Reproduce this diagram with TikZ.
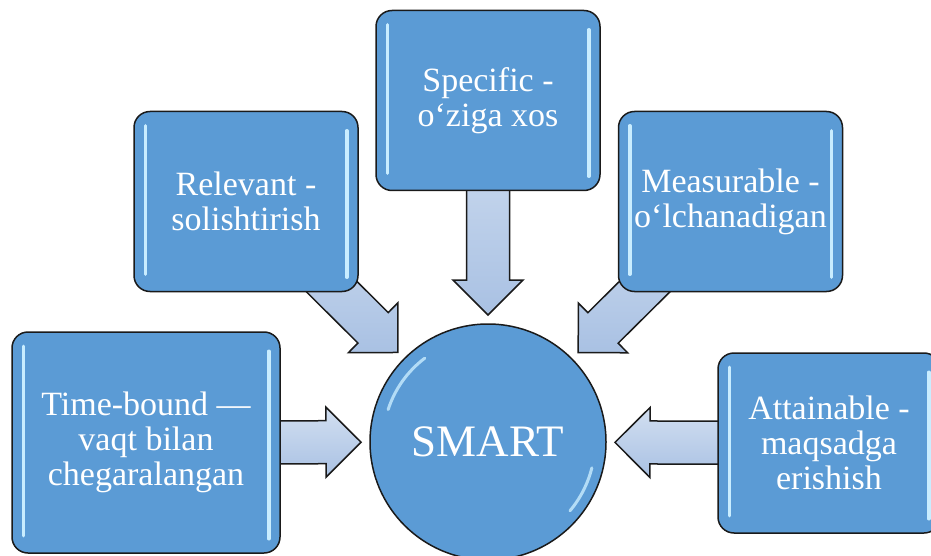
\documentclass[tikz,border=0pt]{standalone}
\usepackage{fontspec}
\setmainfont{Liberation Serif}
\usetikzlibrary{calc,backgrounds}
\definecolor{boxblue}{HTML}{5B9BD5}
\definecolor{glowc}{HTML}{C9EDFF}
\definecolor{arrowlight}{HTML}{D2DFF1}
\definecolor{arrowdark}{HTML}{A9C1E3}
\definecolor{edgec}{HTML}{1A1A1A}
\tikzset{
  boxstyle/.style={draw=edgec, line width=1.5pt, fill=boxblue, rounded corners=16pt,
    text=white, align=center, font=\fontsize{34}{35}\selectfont, inner sep=0pt},
  smallbox/.style={boxstyle, minimum width=224pt, minimum height=180pt},
  glowline/.style={glowc, line width=3.5pt, line cap=round},
  rimglow/.style={glowc, line width=3pt, line cap=round, opacity=.8},
  arrowshape/.style={draw=edgec, line width=1.5pt, line join=miter,
    top color=arrowlight, bottom color=arrowdark},
}
% #1 source box, #2 target circle, #3 prefix for helper coordinates
\newcommand\blockarrow[3]{%
  \coordinate (#3t) at ($(#2.center)!127pt!(#1.center)$);
  \coordinate (#3h) at ($(#3t)!35pt!(#1.center)$);
  \draw[arrowshape] ($(#1.center)!21.5pt!90:(#3t)$) -- ($(#3h)!21.5pt!90:(#3t)$)
    -- ($(#3h)!35pt!90:(#3t)$) -- (#3t) -- ($(#3h)!35pt!-90:(#3t)$)
    -- ($(#3h)!21.5pt!-90:(#3t)$) -- ($(#1.center)!21.5pt!-90:(#3t)$) -- cycle;}
\newcommand\glowbox[1]{%
  \draw[glowline] ($(#1.north west)+(12,15)$) -- ($(#1.south west)+(12,-18)$);
  \draw[glowline] ($(#1.north east)+(-12,20)$) -- ($(#1.south east)+(-12,-15)$);}
\begin{document}
\begin{tikzpicture}[x=1pt,y=-1pt]
  \useasboundingbox (0,0) rectangle (931,556);
  \clip (0,0) rectangle (931,556);
  % boxes
  \node[smallbox] (spec) at (488,100.5) {Specific -\\o‘ziga xos};
  \node[smallbox] (rel) at (246,201.5) {Relevant -\\solishtirish};
  \node[smallbox] (meas) at (730.5,201.5) {Measurable -\\o‘lchanadigan};
  \node[boxstyle, minimum width=268pt, minimum height=221pt] (time) at (146,442.5)
    {Time-bound —\\vaqt bilan\\chegaralangan};
  \node[boxstyle, minimum width=222pt, minimum height=180pt] (att) at (829,443)
    {Attainable -\\maqsadga\\erishish};
  % centre circle
  \node[circle, draw=edgec, line width=1.5pt, fill=boxblue, minimum size=236pt,
    inner sep=0pt, text=white, font=\fontsize{45}{50}\selectfont] (smart) at (488,442) {SMART};
  % glossy highlights
  \glowbox{spec}
  \glowbox{rel}
  \glowbox{meas}
  \glowbox{time}
  \glowbox{att}
  \draw[rimglow] ($(smart.center)+(-162:105)$) arc[start angle=-162, end angle=-127, radius=105];
  \draw[rimglow] ($(smart.center)+(14:107)$) arc[start angle=14, end angle=40, radius=107];
  % block arrows (behind boxes)
  \begin{scope}[on background layer]
    \blockarrow{spec}{smart}{a1}
    \blockarrow{rel}{smart}{a2}
    \blockarrow{meas}{smart}{a3}
    \blockarrow{time}{smart}{a4}
    \blockarrow{att}{smart}{a5}
  \end{scope}
\end{tikzpicture}
\end{document}
